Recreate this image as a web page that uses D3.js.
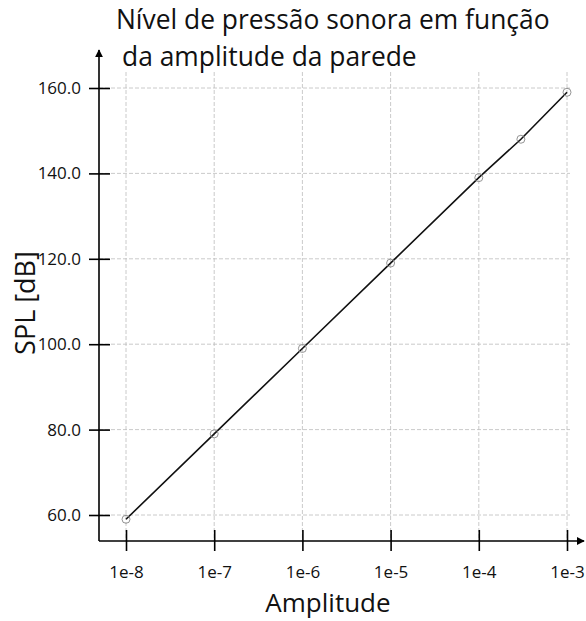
<!DOCTYPE html>
<html>
<head>
<meta charset="utf-8">
<script src="https://cdn.jsdelivr.net/npm/d3@7"></script>
<style>
  body { margin: 0; background: #fff; }
  text { font-family: "Open Sans", "Noto Sans", sans-serif; fill: #111; }
</style>
</head>
<body>
<svg id="chart" width="586" height="621"></svg>
<script>
// data
const amplitudes = [1e-8, 1e-7, 1e-6, 1e-5, 1e-4, 3e-4, 1e-3];
const spl = [59, 79, 99, 119, 139, 148, 159];
const xTicks = [1e-8, 1e-7, 1e-6, 1e-5, 1e-4, 1e-3];
const xTickLabels = ["1e-8", "1e-7", "1e-6", "1e-5", "1e-4", "1e-3"];
const yTicks = [60, 80, 100, 120, 140, 160];

const svg = d3.select("#chart");
var axisX = 99, axisY = 541; // where the axis lines sit

const x = d3.scaleLog().domain([1e-8, 1e-3]).range([126, 567]);
const y = d3.scaleLinear().domain([60, 160]).range([515, 88]);

// grid
svg.append("g").selectAll("line").data(xTicks).join("line")
  .attr("x1", d => x(d)).attr("x2", d => x(d))
  .attr("y1", 72).attr("y2", axisY)
  .attr("stroke", "#bdbdbd").attr("stroke-width", 0.8)
  .attr("stroke-dasharray", "4,2");

svg.append("g").selectAll("line").data(yTicks).join("line")
  .attr("x1", axisX).attr("x2", 570)
  .attr("y1", d => y(d)).attr("y2", d => y(d))
  .attr("stroke", "#bdbdbd").attr("stroke-width", 0.8)
  .attr("stroke-dasharray", "4,2");

// axes with arrows
svg.append("defs").append("marker")
  .attr("id", "arrow").attr("viewBox", "0 0 10 10")
  .attr("refX", 9).attr("refY", 5)
  .attr("markerWidth", 5).attr("markerHeight", 5)
  .attr("orient", "auto")
  .append("path").attr("d", "M0,0 L10,5 L0,10 z").attr("fill", "#000");

svg.append("line")
  .attr("x1", axisX).attr("x2", axisX).attr("y1", axisY).attr("y2", 50)
  .attr("stroke", "#000").attr("stroke-width", 1.6)
  .attr("marker-end", "url(#arrow)");
svg.append("line")
  .attr("x1", axisX).attr("x2", 584).attr("y1", axisY).attr("y2", axisY)
  .attr("stroke", "#000").attr("stroke-width", 1.6)
  .attr("marker-end", "url(#arrow)");

const xAxis = d3.axisBottom(x)
  .tickValues(xTicks)
  .tickFormat((d, i) => xTickLabels[i])
  .tickSizeInner(10).tickSizeOuter(0).tickPadding(15);
const gx = svg.append("g").attr("transform", "translate(0," + axisY + ")").call(xAxis);
gx.select(".domain").remove();
gx.selectAll(".tick line").attr("y1", -11).attr("stroke-width", 1.6);
gx.selectAll(".tick text").attr("font-size", 17).style("font-family", "'Open Sans', sans-serif");

const yAxis = d3.axisLeft(y)
  .tickValues(yTicks)
  .tickFormat(d3.format(".1f"))
  .tickSizeInner(10).tickSizeOuter(0).tickPadding(8);
const gy = svg.append("g").attr("transform", "translate(" + axisX + ",0)").call(yAxis);
gy.select(".domain").remove();
gy.selectAll(".tick line").attr("x2", 11).attr("x1", -10).attr("stroke-width", 1.6);
gy.selectAll(".tick text").attr("font-size", 17).style("font-family", "'Open Sans', sans-serif");

// series
const line = d3.line()
  .x((d, i) => x(amplitudes[i]))
  .y(d => y(d));

svg.append("path")
  .datum(spl)
  .attr("d", line)
  .attr("fill", "none")
  .attr("stroke", "#111")
  .attr("stroke-width", 1.6);

svg.append("g").selectAll("circle").data(spl).join("circle")
  .attr("cx", (d, i) => x(amplitudes[i]))
  .attr("cy", d => y(d))
  .attr("r", 4)
  .attr("fill", "none")
  .attr("stroke", "#888")
  .attr("stroke-width", 0.9);

// titles
svg.append("text").attr("x", 116).attr("y", 29)
  .attr("font-size", 26.4).text("Nível de pressão sonora em função");
svg.append("text").attr("x", 122).attr("y", 66)
  .attr("font-size", 26.4).text("da amplitude da parede");

svg.append("text")
  .attr("transform", "translate(35,303) rotate(-90)")
  .attr("text-anchor", "middle")
  .attr("font-size", 27).text("SPL [dB]");

svg.append("text").attr("x", 328).attr("y", 612)
  .attr("text-anchor", "middle")
  .attr("font-size", 26).text("Amplitude");
</script>
</body>
</html>
